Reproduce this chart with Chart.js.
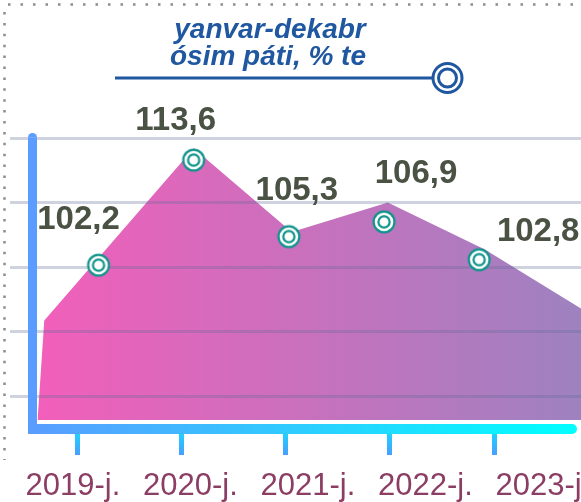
<!DOCTYPE html>
<html>
<head>
<meta charset="utf-8">
<script src="https://cdn.jsdelivr.net/npm/chart.js@4.4.1/dist/chart.umd.min.js"></script>
<style>
  html, body { margin: 0; padding: 0; background: #fff; }
  canvas { display: block; }
</style>
</head>
<body>
<canvas id="growthChart" width="581" height="502"></canvas>
<script>
const years = [2019, 2020, 2021, 2022, 2023];
const yearLabels = ["2019-j.", "2020-j.", "2021-j.", "2022-j.", "2023-j."];
const growth = [102.2, 113.6, 105.3, 106.9, 102.8];

// outline of the shaded band behind the markers
const bandX = [2018.36, 2018.43, 2020.0, 2021.03, 2022.04, 2023.06, 2024.07];
const bandY = [85.4, 96.2, 114.9, 105.8, 109.0, 103.9, 97.5];

// horizontal guide lines
const gridValues = [88, 95, 102, 109, 116];

const titleLines = ["yanvar-dekabr", "ósim páti, % te"];

// where each value label sits relative to its marker
const labelShift = [[-20, -36], [-18, -30], [8, -37], [32, -39], [59, -19]];

const TITLE_BLUE = "#1f57a0";
const TEAL = "#0f948b";

function ringMarker() {
  const c = document.createElement("canvas");
  c.width = 26;
  c.height = 26;
  const g = c.getContext("2d");
  g.fillStyle = "#fff";
  g.strokeStyle = TEAL;
  g.lineWidth = 2.2;
  g.beginPath();
  g.arc(13, 13, 10.4, 0, Math.PI * 2);
  g.fill();
  g.stroke();
  g.beginPath();
  g.arc(13, 13, 5.6, 0, Math.PI * 2);
  g.stroke();
  return c;
}

function bandFill(c) {
  const area = c.chart.chartArea;
  if (!area) return "#d070b8";
  const g = c.chart.ctx.createLinearGradient(area.left + 27, 0, area.right, 0);
  g.addColorStop(0, "#f25fba");
  g.addColorStop(1, "#9e82c0");
  return g;
}

function tickColor(c) {
  const s = c.scale;
  const g = c.chart.ctx.createLinearGradient(0, s.top + 14, 0, s.bottom);
  g.addColorStop(0, "#1ed2ff");
  g.addColorStop(1, "#4a9dff");
  return g;
}

const decor = {
  id: "decor",
  afterDraw(chart) {
    const c = chart.ctx;
    const area = chart.chartArea;
    c.save();

    // dotted frame on top and left
    c.strokeStyle = "#8c8c8c";
    c.lineWidth = 2.5;
    c.setLineDash([2.5, 10]);
    c.beginPath();
    c.moveTo(8, 4.5);
    c.lineTo(581, 4.5);
    c.stroke();
    c.setLineDash([2.5, 8.4]);
    c.beginPath();
    c.moveTo(4.5, 12);
    c.lineTo(4.5, 460);
    c.stroke();
    c.setLineDash([]);

    // title
    c.fillStyle = TITLE_BLUE;
    c.font = 'italic bold 28px "Liberation Sans", Arial, sans-serif';
    c.textAlign = "center";
    c.textBaseline = "alphabetic";
    c.fillText(titleLines[0], 270, 38);
    c.fillText(titleLines[1], 268, 65);

    // title underline with the ring at its end
    c.strokeStyle = TITLE_BLUE;
    c.lineWidth = 3;
    c.beginPath();
    c.moveTo(115, 78);
    c.lineTo(433, 78);
    c.stroke();
    c.beginPath();
    c.arc(447.5, 78, 14.5, 0, Math.PI * 2);
    c.stroke();
    c.beginPath();
    c.arc(447.5, 78, 9, 0, Math.PI * 2);
    c.stroke();

    // left axis bar
    const barL = area.left + 18;
    const barTop = area.top - 0.5;
    const barBottom = area.bottom + 14;
    c.fillStyle = "#5a9cff";
    c.fillRect(barL, barTop, 9, barBottom - barTop);
    c.beginPath();
    c.arc(barL + 4.5, barTop, 4.5, Math.PI, 0);
    c.fill();

    // bottom axis bar
    const grad = c.createLinearGradient(barL, 0, area.right - 4, 0);
    grad.addColorStop(0, "#5a9cff");
    grad.addColorStop(1, "#00ffff");
    c.fillStyle = grad;
    c.beginPath();
    c.moveTo(barL, barBottom - 10);
    c.lineTo(area.right - 9, barBottom - 10);
    c.arc(area.right - 9, barBottom - 5, 5, -Math.PI / 2, Math.PI / 2);
    c.lineTo(barL, barBottom);
    c.closePath();
    c.fill();

    // value labels
    const meta = chart.getDatasetMeta(1);
    c.font = 'bold 33px "Liberation Sans", Arial, sans-serif';
    c.fillStyle = "#4a5244";
    c.textAlign = "center";
    meta.data.forEach((pt, i) => {
      const txt = growth[i].toFixed(1).replace(".", ",");
      c.fillText(txt, pt.x + labelShift[i][0], pt.y + labelShift[i][1]);
    });

    c.restore();
  }
};

new Chart(document.getElementById("growthChart"), {
  type: "line",
  data: {
    datasets: [
      {
        data: bandX.map((x, i) => ({ x: x, y: bandY[i] })),
        fill: "start",
        backgroundColor: bandFill,
        borderColor: "rgba(0,0,0,0)",
        borderWidth: 0,
        pointRadius: 0,
        tension: 0
      },
      {
        data: years.map((x, i) => ({ x: x, y: growth[i] })),
        showLine: false,
        pointStyle: ringMarker(),
        pointRadius: 12,
        clip: false
      }
    ]
  },
  options: {
    responsive: false,
    animation: false,
    events: [],
    layout: {
      autoPadding: false,
      padding: { left: 10, top: 138, right: 0, bottom: 0 }
    },
    plugins: {
      legend: { display: false },
      tooltip: { enabled: false },
      filler: { drawTime: "beforeDraw" }
    },
    scales: {
      x: { type: "linear", min: 2018.07, max: 2024.07, display: false },
      xTicks: {
        type: "linear",
        axis: "x",
        position: "bottom",
        weight: 1,
        min: 2018.357,
        max: 2023.834,
        afterBuildTicks: (s) => { s.ticks = years.map(v => ({ value: v })); },
        ticks: { display: false },
        grid: { drawOnChartArea: false, drawTicks: true, tickLength: 35, lineWidth: 5, color: tickColor },
        border: { display: true, width: 14, color: "rgba(0,0,0,0)" }
      },
      xLabels: {
        type: "linear",
        axis: "x",
        position: "bottom",
        weight: 2,
        min: 2018.464,
        max: 2023.324,
        afterBuildTicks: (s) => { s.ticks = years.map(v => ({ value: v })); },
        // the last label runs off the canvas edge, so keep the plot full width
        afterFit: (s) => { s.height = 47; s.paddingLeft = 0; s.paddingRight = 0; },
        ticks: {
          autoSkip: false,
          maxRotation: 0,
          padding: 15,
          color: "#8b3d63",
          font: { family: '"Liberation Sans", Arial, sans-serif', size: 31, lineHeight: 1.03 },
          callback: (v, i) => yearLabels[i]
        },
        grid: { display: false, drawTicks: false },
        border: { display: false }
      },
      y: {
        min: 85.4,
        max: 116,
        afterBuildTicks: (s) => { s.ticks = gridValues.map(v => ({ value: v })); },
        ticks: { display: false },
        grid: { color: "rgba(95,105,150,0.3)", lineWidth: 3, drawTicks: false },
        border: { display: false }
      }
    }
  },
  plugins: [decor]
});
</script>
</body>
</html>
